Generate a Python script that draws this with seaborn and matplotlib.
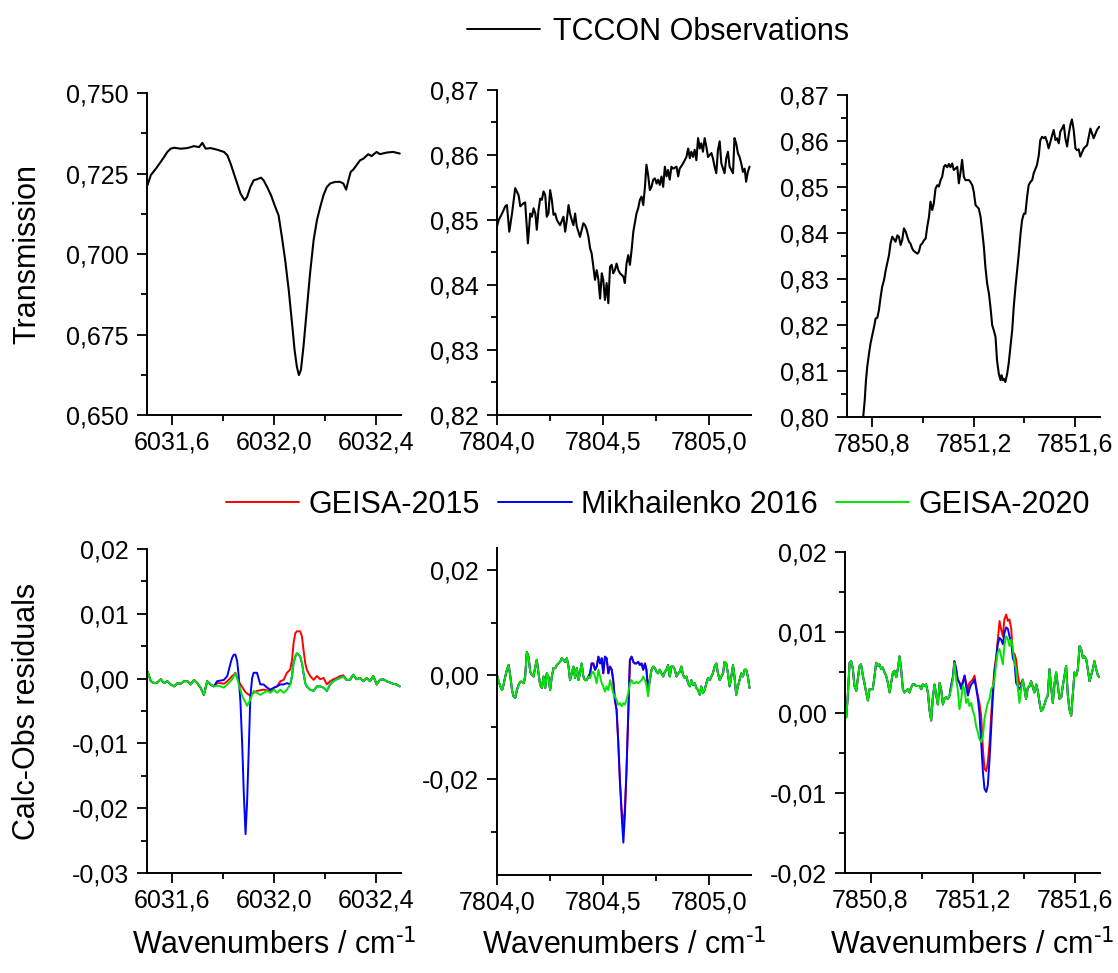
import matplotlib
matplotlib.use('Agg')
import matplotlib.pyplot as plt
from matplotlib.ticker import FixedLocator, FuncFormatter
from matplotlib.lines import Line2D
import seaborn as sns

# ---------------- data ----------------

# top left: TCCON transmission around 6032 cm-1
tl_wn = [6031.502, 6031.515, 6031.535, 6031.554, 6031.567, 6031.580, 6031.593, 6031.607, 6031.633, 6031.659,
         6031.685, 6031.705, 6031.718, 6031.731, 6031.750, 6031.776, 6031.803, 6031.816, 6031.829, 6031.842,
         6031.855, 6031.868, 6031.884, 6031.894, 6031.907, 6031.920, 6031.933, 6031.949, 6031.959, 6031.973,
         6031.988, 6032.005, 6032.018, 6032.031, 6032.044, 6032.058, 6032.071, 6032.081, 6032.090, 6032.098,
         6032.106, 6032.116, 6032.129, 6032.142, 6032.156, 6032.169, 6032.182, 6032.195, 6032.208, 6032.221,
         6032.241, 6032.260, 6032.273, 6032.284, 6032.293, 6032.302, 6032.312, 6032.325, 6032.339, 6032.352,
         6032.371, 6032.384, 6032.404, 6032.417, 6032.443, 6032.469, 6032.495]
tl_obs = [0.7214, 0.7245, 0.7265, 0.7286, 0.7301, 0.7317, 0.7327, 0.7330, 0.7327, 0.7329,
          0.7335, 0.7332, 0.7345, 0.7327, 0.7329, 0.7324, 0.7317, 0.7307, 0.7281, 0.7250,
          0.7219, 0.7188, 0.7167, 0.7177, 0.7208, 0.7229, 0.7232, 0.7237, 0.7229, 0.7208,
          0.7183, 0.7146, 0.7120, 0.7053, 0.6981, 0.6888, 0.6785, 0.6702, 0.6650, 0.6624,
          0.6640, 0.6712, 0.6826, 0.6940, 0.7043, 0.7105, 0.7146, 0.7183, 0.7208, 0.7219,
          0.7224, 0.7224, 0.7219, 0.7200, 0.7229, 0.7255, 0.7262, 0.7276, 0.7291, 0.7296,
          0.7310, 0.7304, 0.7317, 0.7310, 0.7315, 0.7317, 0.7312]

# top middle: around 7804.5 cm-1
tm_wn = [7804.000, 7804.008, 7804.024, 7804.039, 7804.047, 7804.058, 7804.071, 7804.086, 7804.102, 7804.110,
         7804.126, 7804.133, 7804.146, 7804.157, 7804.165, 7804.173, 7804.181, 7804.188, 7804.196, 7804.204,
         7804.212, 7804.220, 7804.228, 7804.235, 7804.243, 7804.251, 7804.259, 7804.267, 7804.275, 7804.283,
         7804.298, 7804.314, 7804.322, 7804.330, 7804.338, 7804.345, 7804.353, 7804.361, 7804.369, 7804.377,
         7804.392, 7804.408, 7804.416, 7804.424, 7804.432, 7804.440, 7804.447, 7804.455, 7804.463, 7804.471,
         7804.479, 7804.487, 7804.495, 7804.502, 7804.510, 7804.518, 7804.526, 7804.534, 7804.542, 7804.549,
         7804.557, 7804.565, 7804.573, 7804.581, 7804.597, 7804.604, 7804.612, 7804.620, 7804.628, 7804.636,
         7804.644, 7804.651, 7804.659, 7804.667, 7804.675, 7804.683, 7804.691, 7804.699, 7804.706, 7804.714,
         7804.722, 7804.730, 7804.738, 7804.746, 7804.754, 7804.761, 7804.769, 7804.777, 7804.785, 7804.793,
         7804.801, 7804.808, 7804.816, 7804.824, 7804.832, 7804.848, 7804.856, 7804.863, 7804.879, 7804.895,
         7804.903, 7804.911, 7804.918, 7804.926, 7804.934, 7804.942, 7804.950, 7804.958, 7804.965, 7804.973,
         7804.981, 7804.989, 7804.997, 7805.005, 7805.013, 7805.020, 7805.028, 7805.036, 7805.044, 7805.052,
         7805.060, 7805.068, 7805.075, 7805.083, 7805.091, 7805.099, 7805.107, 7805.115, 7805.122, 7805.130,
         7805.138, 7805.146, 7805.154, 7805.162, 7805.170, 7805.177, 7805.185, 7805.193]
tm_obs = [0.8490, 0.8500, 0.8510, 0.8521, 0.8523, 0.8482, 0.8510, 0.8549, 0.8538, 0.8521,
          0.8526, 0.8527, 0.8464, 0.8510, 0.8505, 0.8518, 0.8510, 0.8485, 0.8515, 0.8533,
          0.8531, 0.8544, 0.8538, 0.8505, 0.8510, 0.8546, 0.8531, 0.8508, 0.8510, 0.8500,
          0.8492, 0.8505, 0.8482, 0.8500, 0.8523, 0.8510, 0.8500, 0.8492, 0.8510, 0.8490,
          0.8474, 0.8495, 0.8492, 0.8485, 0.8474, 0.8456, 0.8449, 0.8428, 0.8408, 0.8423,
          0.8408, 0.8379, 0.8418, 0.8408, 0.8377, 0.8403, 0.8372, 0.8428, 0.8431, 0.8418,
          0.8423, 0.8433, 0.8423, 0.8418, 0.8413, 0.8403, 0.8433, 0.8446, 0.8431, 0.8454,
          0.8482, 0.8495, 0.8510, 0.8518, 0.8531, 0.8536, 0.8523, 0.8551, 0.8585, 0.8569,
          0.8546, 0.8551, 0.8562, 0.8564, 0.8556, 0.8562, 0.8554, 0.8567, 0.8551, 0.8582,
          0.8567, 0.8577, 0.8562, 0.8582, 0.8579, 0.8582, 0.8567, 0.8579, 0.8587, 0.8597,
          0.8610, 0.8595, 0.8605, 0.8597, 0.8608, 0.8592, 0.8626, 0.8610, 0.8618, 0.8605,
          0.8626, 0.8613, 0.8597, 0.8600, 0.8603, 0.8595, 0.8582, 0.8572, 0.8608, 0.8621,
          0.8587, 0.8579, 0.8572, 0.8595, 0.8605, 0.8582, 0.8577, 0.8572, 0.8626, 0.8618,
          0.8603, 0.8597, 0.8587, 0.8574, 0.8579, 0.8559, 0.8574, 0.8582]

# top right: around 7851.3 cm-1
tr_wn = [7850.764, 7850.770, 7850.775, 7850.780, 7850.787, 7850.793, 7850.800, 7850.807, 7850.813, 7850.820,
         7850.826, 7850.833, 7850.839, 7850.846, 7850.853, 7850.859, 7850.866, 7850.872, 7850.879, 7850.886,
         7850.892, 7850.899, 7850.905, 7850.912, 7850.918, 7850.925, 7850.932, 7850.938, 7850.945, 7850.951,
         7850.958, 7850.964, 7850.978, 7850.984, 7850.991, 7850.997, 7851.004, 7851.011, 7851.017, 7851.024,
         7851.030, 7851.037, 7851.043, 7851.050, 7851.057, 7851.063, 7851.070, 7851.076, 7851.083, 7851.089,
         7851.096, 7851.103, 7851.109, 7851.116, 7851.122, 7851.129, 7851.136, 7851.142, 7851.149, 7851.155,
         7851.162, 7851.168, 7851.175, 7851.182, 7851.188, 7851.195, 7851.201, 7851.208, 7851.214, 7851.221,
         7851.228, 7851.234, 7851.241, 7851.247, 7851.254, 7851.261, 7851.267, 7851.274, 7851.280, 7851.287,
         7851.293, 7851.300, 7851.307, 7851.311, 7851.316, 7851.320, 7851.326, 7851.333, 7851.339, 7851.346,
         7851.353, 7851.359, 7851.366, 7851.372, 7851.379, 7851.386, 7851.392, 7851.399, 7851.405, 7851.412,
         7851.418, 7851.425, 7851.432, 7851.438, 7851.445, 7851.451, 7851.458, 7851.464, 7851.471, 7851.478,
         7851.484, 7851.491, 7851.497, 7851.504, 7851.511, 7851.517, 7851.524, 7851.530, 7851.537, 7851.543,
         7851.550, 7851.557, 7851.563, 7851.570, 7851.576, 7851.583, 7851.589, 7851.596, 7851.603, 7851.609,
         7851.616, 7851.622, 7851.636, 7851.649, 7851.662, 7851.675, 7851.688, 7851.697]
tr_obs = [0.8000, 0.8036, 0.8080, 0.8109, 0.8138, 0.8160, 0.8178, 0.8196, 0.8214, 0.8216,
          0.8232, 0.8261, 0.8283, 0.8297, 0.8319, 0.8334, 0.8352, 0.8377, 0.8392, 0.8386,
          0.8381, 0.8395, 0.8392, 0.8374, 0.8384, 0.8410, 0.8403, 0.8392, 0.8381, 0.8377,
          0.8366, 0.8361, 0.8355, 0.8359, 0.8374, 0.8377, 0.8384, 0.8388, 0.8413, 0.8435,
          0.8468, 0.8450, 0.8464, 0.8497, 0.8504, 0.8501, 0.8515, 0.8522, 0.8544, 0.8548,
          0.8543, 0.8550, 0.8543, 0.8551, 0.8537, 0.8540, 0.8544, 0.8508, 0.8533, 0.8559,
          0.8522, 0.8515, 0.8515, 0.8515, 0.8511, 0.8504, 0.8490, 0.8461, 0.8457, 0.8453,
          0.8435, 0.8406, 0.8370, 0.8326, 0.8290, 0.8268, 0.8239, 0.8199, 0.8189, 0.8174,
          0.8123, 0.8094, 0.8080, 0.8091, 0.8080, 0.8083, 0.8076, 0.8094, 0.8116, 0.8152,
          0.8189, 0.8239, 0.8283, 0.8316, 0.8355, 0.8399, 0.8428, 0.8442, 0.8442, 0.8479,
          0.8504, 0.8511, 0.8515, 0.8530, 0.8540, 0.8548, 0.8569, 0.8602, 0.8609, 0.8606,
          0.8609, 0.8598, 0.8584, 0.8598, 0.8613, 0.8624, 0.8602, 0.8606, 0.8595, 0.8620,
          0.8627, 0.8635, 0.8606, 0.8588, 0.8613, 0.8635, 0.8647, 0.8624, 0.8584, 0.8580,
          0.8582, 0.8566, 0.8584, 0.8591, 0.8627, 0.8606, 0.8624, 0.8631]

# bottom left: residuals around 6032 cm-1
bl_wn = [6031.502, 6031.515, 6031.528, 6031.541, 6031.554, 6031.567, 6031.580, 6031.593, 6031.607, 6031.620,
         6031.633, 6031.646, 6031.659, 6031.672, 6031.685, 6031.698, 6031.711, 6031.724, 6031.737, 6031.750,
         6031.763, 6031.776, 6031.790, 6031.803, 6031.816, 6031.829,
         6031.835, 6031.842, 6031.848, 6031.855, 6031.861, 6031.868, 6031.875, 6031.881, 6031.888, 6031.894,
         6031.901, 6031.907, 6031.914, 6031.920,
         6031.933, 6031.946, 6031.959, 6031.973, 6031.986, 6032.000, 6032.012, 6032.025, 6032.038, 6032.051,
         6032.064,
         6032.071, 6032.077, 6032.084, 6032.090, 6032.097, 6032.103, 6032.110, 6032.116, 6032.123, 6032.129,
         6032.142, 6032.156, 6032.169, 6032.182, 6032.195, 6032.208, 6032.221, 6032.234, 6032.247, 6032.260,
         6032.273, 6032.286, 6032.299, 6032.312, 6032.325, 6032.339, 6032.352, 6032.365, 6032.378, 6032.391,
         6032.404, 6032.417, 6032.430, 6032.443, 6032.456, 6032.469, 6032.482, 6032.495]
bl_geisa2015 = [0.0011, -0.0004, -0.0007, -0.0006, -0.0001, -0.0007, -0.0004, -0.0009, -0.0012, -0.0007,
                -0.0008, -0.0004, -0.0004, -0.0009, -0.0002, -0.0007, -0.0014, -0.0025, -0.0004, -0.0009,
                -0.0012, -0.0007, -0.0007, -0.0008, -0.0004, 0.0001,
                0.0004, 0.0006, 0.0009, 0.0001, -0.0004, -0.0009, -0.0013, -0.0017, -0.0021, -0.0023,
                -0.0025, -0.0025, -0.0023, -0.0022,
                -0.0019, -0.0018, -0.0017, -0.0018, -0.0019, -0.0014, -0.0012, -0.0004, -0.0002, 0.0009,
                0.0014,
                0.0029, 0.0055, 0.0070, 0.0073, 0.0073, 0.0073, 0.0065, 0.0045, 0.0024, 0.0014,
                0.0004, -0.0002, 0.0004, -0.0001, 0.0001, -0.0009, -0.0004, -0.0001, 0.0001, 0.0004,
                0.0005, -0.0002, -0.0002, 0.0006, -0.0001, 0.0001, -0.0004, 0.0001, -0.0004, 0.0004,
                -0.0009, -0.0002, -0.0001, -0.0004, -0.0006, -0.0008, -0.0009, -0.0012]
bl_mikh2016 = [0.0011, -0.0004, -0.0007, -0.0006, -0.0001, -0.0007, -0.0004, -0.0009, -0.0012, -0.0007,
               -0.0008, -0.0004, -0.0004, -0.0009, -0.0002, -0.0007, -0.0014, -0.0025, -0.0004, -0.0009,
               -0.0012, -0.0004, -0.0003, -0.0002, 0.0004, 0.0024,
               0.0032, 0.0037, 0.0037, 0.0027, 0.0004, -0.0037, -0.0104, -0.0176, -0.0240, -0.0191,
               -0.0104, -0.0027, 0.0001, 0.0009,
               0.0009, -0.0009, -0.0009, -0.0014, -0.0017, -0.0014, -0.0012, -0.0009, -0.0009, -0.0007,
               -0.0009,
               0.0004, 0.0024, 0.0034, 0.0039, 0.0037, 0.0034, 0.0024, 0.0009, -0.0007, -0.0012,
               -0.0017, -0.0019, -0.0012, -0.0012, -0.0014, -0.0019, -0.0009, -0.0004, -0.0001, 0.0001,
               0.0003, -0.0002, -0.0002, 0.0006, -0.0001, 0.0001, -0.0004, 0.0001, -0.0004, 0.0004,
               -0.0009, -0.0002, -0.0001, -0.0004, -0.0006, -0.0008, -0.0009, -0.0012]
bl_geisa2020 = [0.0011, -0.0004, -0.0007, -0.0006, -0.0001, -0.0007, -0.0004, -0.0009, -0.0012, -0.0007,
                -0.0008, -0.0004, -0.0004, -0.0009, -0.0002, -0.0007, -0.0014, -0.0025, -0.0004, -0.0009,
                -0.0012, -0.0011, -0.0012, -0.0014, -0.0009, -0.0004,
                -0.0001, 0.0004, 0.0008, 0.0001, -0.0009, -0.0017, -0.0027, -0.0032, -0.0037, -0.0042,
                -0.0037, -0.0032, -0.0025, -0.0019,
                -0.0022, -0.0025, -0.0022, -0.0019, -0.0022, -0.0017, -0.0022, -0.0017, -0.0022, -0.0017,
                -0.0009,
                0.0004, 0.0024, 0.0034, 0.0039, 0.0037, 0.0034, 0.0024, 0.0009, -0.0007, -0.0012,
                -0.0017, -0.0019, -0.0012, -0.0012, -0.0014, -0.0019, -0.0009, -0.0004, -0.0001, 0.0001,
                0.0003, -0.0002, -0.0002, 0.0006, -0.0001, 0.0001, -0.0004, 0.0001, -0.0004, 0.0004,
                -0.0009, -0.0002, -0.0001, -0.0004, -0.0006, -0.0008, -0.0009, -0.0012]

# bottom middle: residuals around 7804.5 cm-1
bm_wn = [7804.000, 7804.008, 7804.016, 7804.024, 7804.031, 7804.039, 7804.047, 7804.055, 7804.063, 7804.071,
         7804.078, 7804.086, 7804.094, 7804.102, 7804.110, 7804.118, 7804.126, 7804.133, 7804.141, 7804.149,
         7804.157, 7804.165, 7804.173, 7804.181, 7804.188, 7804.196, 7804.204, 7804.212, 7804.220, 7804.228,
         7804.235, 7804.243, 7804.251, 7804.259, 7804.267, 7804.275, 7804.283, 7804.290, 7804.298, 7804.306,
         7804.314, 7804.322, 7804.330, 7804.338, 7804.345, 7804.353, 7804.361, 7804.369, 7804.377, 7804.385,
         7804.392, 7804.400, 7804.408, 7804.416, 7804.424, 7804.432, 7804.440, 7804.447, 7804.455, 7804.463,
         7804.471, 7804.479, 7804.487, 7804.495, 7804.502, 7804.510, 7804.518, 7804.526, 7804.534, 7804.542,
         7804.549, 7804.557, 7804.565, 7804.573, 7804.581, 7804.589, 7804.597, 7804.604, 7804.612, 7804.620,
         7804.628, 7804.636, 7804.644, 7804.651, 7804.659, 7804.667, 7804.675, 7804.683, 7804.691, 7804.699,
         7804.706, 7804.714, 7804.722, 7804.730, 7804.738, 7804.746, 7804.754, 7804.761, 7804.769, 7804.777,
         7804.785, 7804.793, 7804.801, 7804.808, 7804.816, 7804.824, 7804.832, 7804.840, 7804.848, 7804.856,
         7804.863, 7804.871, 7804.879, 7804.887, 7804.895, 7804.903, 7804.911, 7804.918, 7804.926, 7804.934,
         7804.942, 7804.950, 7804.958, 7804.965, 7804.973, 7804.981, 7804.989, 7804.997, 7805.005, 7805.013,
         7805.020, 7805.028, 7805.036, 7805.044, 7805.052, 7805.060, 7805.068, 7805.075, 7805.083, 7805.091,
         7805.099, 7805.107, 7805.115, 7805.122, 7805.130, 7805.138, 7805.146, 7805.154, 7805.162, 7805.170,
         7805.177, 7805.185, 7805.193]
bm_geisa2015 = [0.0000, -0.0013, -0.0022, -0.0029, -0.0019, -0.0003, 0.0010, 0.0019, -0.0003, -0.0029,
                -0.0041, -0.0044, -0.0029, -0.0019, -0.0013, -0.0013, -0.0016, -0.0003, 0.0044, 0.0035,
                0.0006, 0.0000, -0.0003, 0.0016, 0.0029, 0.0003, -0.0019, -0.0025, -0.0003, -0.0025,
                0.0003, -0.0003, -0.0029, -0.0003, 0.0013, 0.0013, 0.0019, 0.0022, 0.0025, 0.0032,
                0.0029, 0.0025, 0.0032, 0.0016, -0.0010, 0.0003, 0.0016, -0.0006, 0.0013, -0.0010,
                0.0003, 0.0022, -0.0003, -0.0010, -0.0010, -0.0003, 0.0003, 0.0022, 0.0022, 0.0010,
                0.0016, 0.0035, 0.0022, 0.0032, 0.0003, 0.0035, 0.0032, 0.0003, 0.0016, 0.0010,
                -0.0010, -0.0048, -0.0067, -0.0130, -0.0206, -0.0257, -0.0289, -0.0257, -0.0181, -0.0079,
                0.0029, 0.0035, 0.0025, 0.0022, 0.0022, 0.0025, 0.0019, 0.0022, 0.0010, 0.0022,
                0.0010, -0.0029, -0.0010, 0.0010, 0.0016, 0.0013, 0.0006, 0.0003, 0.0010, 0.0003,
                -0.0003, 0.0006, 0.0010, 0.0019, -0.0003, 0.0016, 0.0016, 0.0010, -0.0003, 0.0003,
                0.0006, 0.0016, 0.0000, -0.0006, -0.0003, -0.0016, -0.0022, -0.0010, -0.0019, -0.0016,
                -0.0025, -0.0029, -0.0038, -0.0022, -0.0035, -0.0029, -0.0016, -0.0006, -0.0010, -0.0003,
                0.0003, 0.0016, 0.0022, 0.0003, -0.0010, -0.0003, 0.0003, 0.0025, 0.0022, 0.0003,
                -0.0022, -0.0003, 0.0019, -0.0003, -0.0038, -0.0022, -0.0010, 0.0003, -0.0003, 0.0010,
                0.0010, -0.0003, -0.0025]
bm_mikh2016 = [0.0000, -0.0013, -0.0022, -0.0029, -0.0019, -0.0003, 0.0010, 0.0019, -0.0003, -0.0029,
               -0.0041, -0.0044, -0.0029, -0.0019, -0.0013, -0.0013, -0.0016, -0.0003, 0.0044, 0.0035,
               0.0006, 0.0000, -0.0003, 0.0016, 0.0029, 0.0003, -0.0019, -0.0025, -0.0003, -0.0025,
               0.0003, -0.0003, -0.0029, -0.0003, 0.0013, 0.0013, 0.0019, 0.0022, 0.0025, 0.0032,
               0.0029, 0.0025, 0.0032, 0.0016, -0.0010, 0.0003, 0.0016, -0.0006, 0.0013, -0.0010,
               0.0003, 0.0022, -0.0003, -0.0010, -0.0010, -0.0003, 0.0003, 0.0022, 0.0022, 0.0010,
               0.0016, 0.0035, 0.0022, 0.0032, 0.0003, 0.0035, 0.0032, 0.0003, 0.0016, 0.0010,
               -0.0010, -0.0048, -0.0067, -0.0130, -0.0206, -0.0270, -0.0321, -0.0270, -0.0181, -0.0079,
               0.0029, 0.0035, 0.0025, 0.0022, 0.0022, 0.0025, 0.0019, 0.0022, 0.0010, 0.0022,
               0.0010, -0.0029, -0.0010, 0.0010, 0.0016, 0.0013, 0.0006, 0.0003, 0.0010, 0.0003,
               -0.0003, 0.0006, 0.0010, 0.0019, -0.0003, 0.0016, 0.0016, 0.0010, -0.0003, 0.0003,
               0.0006, 0.0016, 0.0000, -0.0006, -0.0003, -0.0016, -0.0022, -0.0010, -0.0019, -0.0016,
               -0.0025, -0.0029, -0.0038, -0.0022, -0.0035, -0.0029, -0.0016, -0.0006, -0.0010, -0.0003,
               0.0003, 0.0016, 0.0022, 0.0003, -0.0010, -0.0003, 0.0003, 0.0025, 0.0022, 0.0003,
               -0.0022, -0.0003, 0.0019, -0.0003, -0.0038, -0.0022, -0.0010, 0.0003, -0.0003, 0.0010,
               0.0010, -0.0003, -0.0025]
bm_geisa2020 = [0.0000, -0.0013, -0.0022, -0.0029, -0.0019, -0.0003, 0.0010, 0.0019, -0.0003, -0.0029,
                -0.0041, -0.0044, -0.0029, -0.0019, -0.0013, -0.0013, -0.0016, -0.0003, 0.0044, 0.0035,
                0.0006, 0.0000, -0.0003, 0.0016, 0.0029, 0.0003, -0.0019, -0.0025, -0.0003, -0.0025,
                0.0003, -0.0003, -0.0029, -0.0003, 0.0013, 0.0013, 0.0019, 0.0022, 0.0025, 0.0032,
                0.0029, 0.0025, 0.0032, 0.0016, -0.0010, 0.0003, 0.0016, -0.0006, 0.0013, -0.0010,
                0.0003, 0.0022, -0.0003, -0.0010, -0.0010, -0.0003, -0.0006, 0.0003, 0.0006, -0.0003,
                -0.0016, 0.0010, -0.0003, -0.0016, -0.0022, -0.0032, -0.0022, -0.0029, -0.0010, -0.0022,
                -0.0035, -0.0041, -0.0048, -0.0057, -0.0054, -0.0060, -0.0054, -0.0057, -0.0048, -0.0035,
                -0.0016, -0.0010, -0.0016, -0.0016, -0.0013, -0.0016, -0.0013, -0.0010, -0.0003, -0.0010,
                -0.0019, -0.0041, -0.0010, 0.0010, 0.0016, 0.0013, 0.0006, 0.0003, 0.0010, 0.0003,
                -0.0003, 0.0006, 0.0010, 0.0019, -0.0003, 0.0016, 0.0016, 0.0010, -0.0003, 0.0003,
                0.0006, 0.0016, 0.0000, -0.0006, -0.0003, -0.0016, -0.0022, -0.0010, -0.0019, -0.0016,
                -0.0025, -0.0029, -0.0038, -0.0022, -0.0035, -0.0029, -0.0016, -0.0006, -0.0010, -0.0003,
                0.0003, 0.0016, 0.0022, 0.0003, -0.0010, -0.0003, 0.0003, 0.0025, 0.0022, 0.0003,
                -0.0022, -0.0003, 0.0019, -0.0003, -0.0038, -0.0022, -0.0010, 0.0003, -0.0003, 0.0010,
                0.0010, -0.0003, -0.0025]

# bottom right: residuals around 7851.3 cm-1
br_wn = [7850.698, 7850.705, 7850.711, 7850.718, 7850.724, 7850.731, 7850.737, 7850.744, 7850.750, 7850.757,
         7850.763, 7850.770, 7850.776, 7850.783, 7850.790, 7850.796, 7850.803, 7850.809, 7850.816, 7850.822,
         7850.829, 7850.835, 7850.842, 7850.848, 7850.855, 7850.861, 7850.868, 7850.875, 7850.881, 7850.888,
         7850.894, 7850.901, 7850.907, 7850.914, 7850.920, 7850.927, 7850.933, 7850.940, 7850.946, 7850.953,
         7850.959, 7850.966, 7850.973, 7850.979, 7850.986, 7850.992, 7850.999, 7851.005, 7851.012, 7851.018,
         7851.025, 7851.031, 7851.038, 7851.044, 7851.051, 7851.058, 7851.064, 7851.071, 7851.077, 7851.084,
         7851.090, 7851.097, 7851.103, 7851.110, 7851.116, 7851.123, 7851.129, 7851.136, 7851.142, 7851.149,
         7851.156, 7851.162, 7851.169, 7851.175, 7851.182, 7851.188, 7851.195, 7851.201, 7851.208, 7851.214,
         7851.221, 7851.227, 7851.234, 7851.241, 7851.247, 7851.254, 7851.260, 7851.267, 7851.273, 7851.280,
         7851.286, 7851.293, 7851.299, 7851.306, 7851.312, 7851.319, 7851.325, 7851.332, 7851.339, 7851.345,
         7851.352, 7851.358, 7851.365, 7851.371, 7851.378, 7851.384, 7851.391, 7851.397, 7851.404, 7851.410,
         7851.417, 7851.424, 7851.430, 7851.437, 7851.443, 7851.450, 7851.456, 7851.463, 7851.469, 7851.476,
         7851.482, 7851.489, 7851.495, 7851.502, 7851.508, 7851.515, 7851.522, 7851.528, 7851.535, 7851.541,
         7851.548, 7851.554, 7851.561, 7851.567, 7851.574, 7851.580, 7851.587, 7851.593, 7851.600, 7851.607,
         7851.613, 7851.620, 7851.626, 7851.633, 7851.639, 7851.646, 7851.652, 7851.659, 7851.665, 7851.672,
         7851.678, 7851.685, 7851.692, 7851.698]
br_geisa2015 = [0.0004, -0.0006, 0.0021, 0.0062, 0.0064, 0.0054, 0.0033, 0.0027, 0.0041, 0.0058,
                0.0060, 0.0046, 0.0037, 0.0025, 0.0015, 0.0029, 0.0029, 0.0029, 0.0046, 0.0062,
                0.0058, 0.0060, 0.0054, 0.0056, 0.0050, 0.0046, 0.0037, 0.0025, 0.0037, 0.0050,
                0.0052, 0.0044, 0.0054, 0.0070, 0.0054, 0.0029, 0.0025, 0.0027, 0.0029, 0.0025,
                0.0031, 0.0035, 0.0035, 0.0033, 0.0033, 0.0033, 0.0029, 0.0035, 0.0033, 0.0035,
                0.0025, 0.0004, -0.0010, 0.0017, 0.0035, 0.0021, 0.0010, 0.0037, 0.0029, 0.0010,
                0.0017, 0.0019, 0.0017, 0.0021, 0.0033, 0.0044, 0.0064, 0.0054, 0.0041, 0.0037,
                0.0033, 0.0039, 0.0046, 0.0037, 0.0029, 0.0037, 0.0039, 0.0041, 0.0046, 0.0033,
                0.0021, 0.0012, -0.0004, -0.0046, -0.0070, -0.0073, -0.0062, -0.0037, -0.0004, 0.0029,
                0.0054, 0.0070, 0.0091, 0.0114, 0.0104, 0.0095, 0.0116, 0.0122, 0.0114, 0.0116,
                0.0104, 0.0075, 0.0073, 0.0066, 0.0046, 0.0035, 0.0037, 0.0041, 0.0029, 0.0017,
                0.0031, 0.0033, 0.0039, 0.0031, 0.0025, 0.0035, 0.0027, 0.0012, 0.0002, 0.0004,
                0.0010, 0.0017, 0.0021, 0.0054, 0.0033, 0.0012, 0.0037, 0.0050, 0.0033, 0.0017,
                0.0019, 0.0033, 0.0046, 0.0058, 0.0021, 0.0004, -0.0004, 0.0021, 0.0050, 0.0046,
                0.0054, 0.0083, 0.0079, 0.0068, 0.0070, 0.0066, 0.0054, 0.0039, 0.0046, 0.0054,
                0.0064, 0.0054, 0.0046, 0.0044]
br_mikh2016 = [0.0004, -0.0006, 0.0021, 0.0062, 0.0064, 0.0054, 0.0033, 0.0027, 0.0041, 0.0058,
               0.0060, 0.0046, 0.0037, 0.0025, 0.0015, 0.0029, 0.0029, 0.0029, 0.0046, 0.0062,
               0.0058, 0.0060, 0.0054, 0.0056, 0.0050, 0.0046, 0.0037, 0.0025, 0.0037, 0.0050,
               0.0052, 0.0044, 0.0054, 0.0070, 0.0054, 0.0029, 0.0025, 0.0027, 0.0029, 0.0025,
               0.0031, 0.0035, 0.0035, 0.0033, 0.0033, 0.0033, 0.0029, 0.0035, 0.0033, 0.0035,
               0.0025, 0.0004, -0.0010, 0.0017, 0.0035, 0.0021, 0.0010, 0.0037, 0.0029, 0.0010,
               0.0017, 0.0019, 0.0017, 0.0021, 0.0033, 0.0044, 0.0064, 0.0054, 0.0041, 0.0037,
               0.0029, 0.0037, 0.0046, 0.0033, 0.0021, 0.0029, 0.0035, 0.0037, 0.0041, 0.0031,
               0.0017, 0.0000, -0.0037, -0.0075, -0.0095, -0.0099, -0.0091, -0.0058, -0.0021, 0.0021,
               0.0050, 0.0066, 0.0085, 0.0093, 0.0091, 0.0085, 0.0099, 0.0106, 0.0104, 0.0095,
               0.0087, 0.0068, 0.0062, 0.0037, 0.0033, 0.0029, 0.0033, 0.0041, 0.0029, 0.0017,
               0.0031, 0.0033, 0.0039, 0.0031, 0.0025, 0.0035, 0.0027, 0.0012, 0.0002, 0.0004,
               0.0010, 0.0017, 0.0021, 0.0054, 0.0033, 0.0012, 0.0037, 0.0050, 0.0033, 0.0017,
               0.0019, 0.0033, 0.0046, 0.0058, 0.0021, 0.0004, -0.0004, 0.0021, 0.0050, 0.0046,
               0.0054, 0.0083, 0.0079, 0.0068, 0.0070, 0.0066, 0.0054, 0.0039, 0.0046, 0.0054,
               0.0064, 0.0054, 0.0046, 0.0044]
br_geisa2020 = [0.0004, -0.0006, 0.0021, 0.0062, 0.0064, 0.0054, 0.0033, 0.0027, 0.0041, 0.0058,
                0.0060, 0.0046, 0.0037, 0.0025, 0.0015, 0.0029, 0.0029, 0.0029, 0.0046, 0.0062,
                0.0058, 0.0060, 0.0054, 0.0056, 0.0050, 0.0046, 0.0037, 0.0025, 0.0037, 0.0050,
                0.0052, 0.0044, 0.0054, 0.0070, 0.0054, 0.0029, 0.0025, 0.0027, 0.0029, 0.0025,
                0.0031, 0.0035, 0.0035, 0.0033, 0.0033, 0.0033, 0.0029, 0.0035, 0.0033, 0.0035,
                0.0025, 0.0004, -0.0010, 0.0017, 0.0035, 0.0021, 0.0010, 0.0037, 0.0029, 0.0010,
                0.0017, 0.0019, 0.0017, 0.0021, 0.0029, 0.0041, 0.0062, 0.0041, 0.0029, 0.0004,
                0.0017, 0.0033, 0.0029, 0.0012, 0.0017, 0.0008, 0.0012, 0.0002, -0.0004, -0.0017,
                -0.0025, -0.0033, -0.0037, -0.0029, -0.0008, 0.0004, 0.0012, 0.0017, 0.0029, 0.0033,
                0.0041, 0.0062, 0.0075, 0.0079, 0.0070, 0.0060, 0.0083, 0.0095, 0.0091, 0.0083,
                0.0091, 0.0079, 0.0062, 0.0054, 0.0029, 0.0012, 0.0029, 0.0041, 0.0029, 0.0017,
                0.0031, 0.0033, 0.0039, 0.0031, 0.0025, 0.0035, 0.0027, 0.0012, 0.0002, 0.0004,
                0.0010, 0.0017, 0.0021, 0.0054, 0.0033, 0.0012, 0.0037, 0.0050, 0.0033, 0.0017,
                0.0019, 0.0033, 0.0046, 0.0058, 0.0021, 0.0004, -0.0004, 0.0021, 0.0050, 0.0046,
                0.0054, 0.0083, 0.0079, 0.0068, 0.0070, 0.0066, 0.0054, 0.0039, 0.0046, 0.0054,
                0.0064, 0.0054, 0.0046, 0.0044]

series_names = ['GEISA-2015', 'Mikhailenko 2016', 'GEISA-2020']
series_colors = ['#ff0000', '#0000ff', '#00e600']

# ---------------- figure ----------------
sns.set_theme(style='ticks')
plt.rcParams['font.family'] = ['Liberation Sans', 'DejaVu Sans']
plt.rcParams['mathtext.default'] = 'regular'
plt.rcParams['text.color'] = 'black'
plt.rcParams['axes.labelcolor'] = 'black'

W, H = 1118, 973
fig = plt.figure(figsize=(W / 100, H / 100), dpi=100)


def panel(left, right, top, bottom):
    # axes box given in pixels of the final image
    return fig.add_axes([left / W, 1 - bottom / H, (right - left) / W, (bottom - top) / H])


def comma(nd):
    def fmt(v, pos):
        if abs(v) < 1e-9:
            v = 0.0
        return f'{v:.{nd}f}'.replace('.', ',')
    return FuncFormatter(fmt)


def style(ax, xlim, ylim, xmaj, xmin, ymaj, ymin, ynd):
    ax.set_xlim(xlim)
    ax.set_ylim(ylim)
    ax.xaxis.set_major_locator(FixedLocator(xmaj))
    ax.xaxis.set_minor_locator(FixedLocator(xmin))
    ax.yaxis.set_major_locator(FixedLocator(ymaj))
    ax.yaxis.set_minor_locator(FixedLocator(ymin))
    ax.xaxis.set_major_formatter(comma(1))
    ax.yaxis.set_major_formatter(comma(ynd))
    ax.tick_params(which='major', direction='out', length=7, width=1.3,
                   labelsize=18, color='black', labelcolor='black')
    ax.tick_params(which='minor', direction='out', length=4, width=1.3, color='black')
    ax.tick_params(axis='y', which='major', pad=6)
    ax.tick_params(axis='x', which='major', pad=4)
    sns.despine(ax=ax)
    for s in ['left', 'bottom']:
        ax.spines[s].set_linewidth(1.4)
        ax.spines[s].set_color('black')
    ax.set_xlabel('')
    ax.set_ylabel('')


x_left = dict(xlim=(6031.5, 6032.5), xmaj=[6031.6, 6032.0, 6032.4], xmin=[6031.8, 6032.2])
x_mid = dict(xlim=(7804.0, 7805.2), xmaj=[7804.0, 7804.5, 7805.0], xmin=[7804.25, 7804.75])
x_right = dict(xlim=(7850.7, 7851.7), xmaj=[7850.8, 7851.2, 7851.6], xmin=[7851.0, 7851.4])

# top row: observed transmission
ax = panel(147, 401, 93, 415)
sns.lineplot(x=tl_wn, y=tl_obs, ax=ax, color='black', linewidth=1.5, sort=False, estimator=None)
style(ax, ylim=(0.65, 0.75), ymaj=[0.65, 0.675, 0.70, 0.725, 0.75],
      ymin=[0.6625, 0.6875, 0.7125, 0.7375], ynd=3, **x_left)

ax = panel(497, 751, 90, 415)
sns.lineplot(x=tm_wn, y=tm_obs, ax=ax, color='black', linewidth=1.5, sort=False, estimator=None)
style(ax, ylim=(0.82, 0.87), ymaj=[0.82, 0.83, 0.84, 0.85, 0.86, 0.87],
      ymin=[0.825, 0.835, 0.845, 0.855, 0.865], ynd=2, **x_mid)

ax = panel(847, 1100, 95, 417)
sns.lineplot(x=tr_wn, y=tr_obs, ax=ax, color='black', linewidth=1.5, sort=False, estimator=None)
style(ax, ylim=(0.80, 0.87), ymaj=[0.80, 0.81, 0.82, 0.83, 0.84, 0.85, 0.86, 0.87],
      ymin=[0.805, 0.815, 0.825, 0.835, 0.845, 0.855, 0.865], ynd=2, **x_right)

# bottom row: calc - obs residuals
ax = panel(147, 401, 549, 873)
for vals, c in zip([bl_geisa2015, bl_mikh2016, bl_geisa2020], series_colors):
    sns.lineplot(x=bl_wn, y=vals, ax=ax, color=c, linewidth=1.4, sort=False, estimator=None)
style(ax, ylim=(-0.03, 0.02), ymaj=[-0.03, -0.02, -0.01, 0.0, 0.01, 0.02],
      ymin=[-0.025, -0.015, -0.005, 0.005, 0.015], ynd=2, **x_left)

ax = panel(497, 751, 548, 875)
for vals, c in zip([bm_geisa2015, bm_mikh2016, bm_geisa2020], series_colors):
    sns.lineplot(x=bm_wn, y=vals, ax=ax, color=c, linewidth=1.4, sort=False, estimator=None)
style(ax, ylim=(-0.0383, 0.0243), ymaj=[-0.02, 0.0, 0.02],
      ymin=[-0.03, -0.01, 0.01], ynd=2, **x_mid)

ax = panel(845, 1100, 552, 873)
for vals, c in zip([br_geisa2015, br_mikh2016, br_geisa2020], series_colors):
    sns.lineplot(x=br_wn, y=vals, ax=ax, color=c, linewidth=1.4, sort=False, estimator=None)
style(ax, ylim=(-0.02, 0.02), ymaj=[-0.02, -0.01, 0.0, 0.01, 0.02],
      ymin=[-0.015, -0.005, 0.005, 0.015], ynd=2, **x_right)

# legends
fig.legend([Line2D([], [], color='black', lw=1.4)], ['TCCON Observations'],
           loc='center', bbox_to_anchor=(658 / W, 1 - 32 / H), frameon=False, fontsize=22,
           handlelength=2.4, handletextpad=0.4, borderpad=0, borderaxespad=0)
fig.legend([Line2D([], [], color=c, lw=1.4) for c in series_colors], series_names,
           loc='center', bbox_to_anchor=(658 / W, 1 - 505 / H), ncol=3, frameon=False, fontsize=22,
           handlelength=2.4, handletextpad=0.3, columnspacing=0.6, borderpad=0, borderaxespad=0)

# axis titles
fig.text(27 / W, 1 - 254 / H, 'Transmission', rotation=90, ha='center', va='center', fontsize=22)
fig.text(27 / W, 1 - 711 / H, 'Calc-Obs residuals', rotation=90, ha='center', va='center', fontsize=22)
for cx in [274, 624, 972]:
    fig.text(cx / W, 1 - 945 / H, r'Wavenumbers / cm$^{\text{-1}}$', ha='center', va='center', fontsize=22)

fig.savefig('out.png', dpi=100)
